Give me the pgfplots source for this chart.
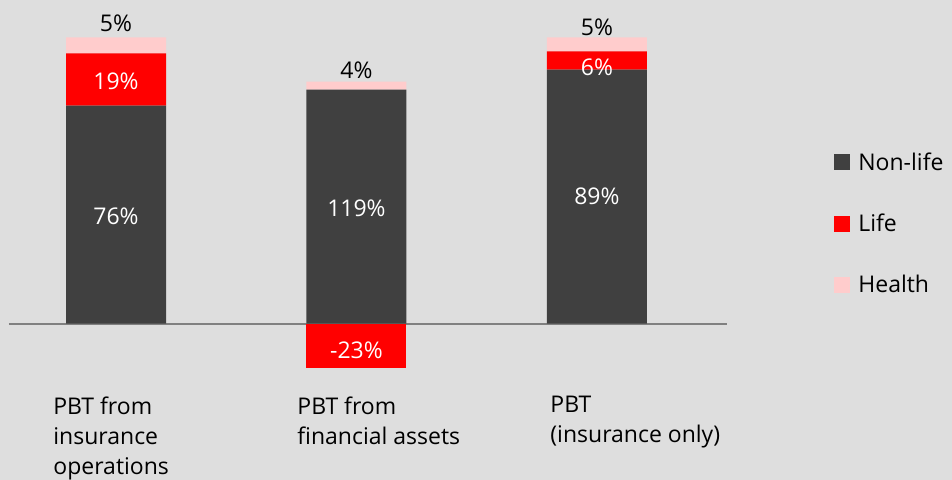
\documentclass[border=0pt]{standalone}
\usepackage{pgfplots}
\usepackage{pgfplotstable}
\pgfplotsset{compat=1.18}
\usepackage{fontspec}
\setmainfont{Open Sans}
\definecolor{bg}{HTML}{DEDEDE}
\definecolor{nonlife}{HTML}{404040}
\definecolor{life}{HTML}{FF0000}
\definecolor{health}{HTML}{FFCCCC}
\definecolor{baseln}{HTML}{808080}
\pgfplotstableread{
x nl lpos health lneg
0 76.2 18.2 5.6 0
1 81.8 0 2.8 -15.4
2 88.8 6.3 4.9 0
}\datatable
\begin{document}
\begin{tikzpicture}[font=\fontsize{11.5}{15}\selectfont]
\fill[bg] (0pt,0pt) rectangle (476pt,240pt);
\begin{axis}[
  at={(4.5pt,0pt)}, anchor=south west,
  scale only axis, width=359pt, height=240pt,
  ybar stacked, bar width=50pt,
  xmin=-0.445, xmax=2.541, ymin=-54.7, ymax=113.1,
  axis line style={draw=none},
  xtick=\empty, ytick=\empty,
  extra y ticks={0}, extra y tick labels={},
  extra y tick style={grid=major, major grid style={baseln, line width=1pt}, major tick length=0pt},
  clip=false,
  legend image code/.code={\fill[#1] (0pt,0pt) rectangle (8pt,8pt);},
  legend style={at={(rel axis cs:1.149,0.533)}, anchor=west, draw=none, fill=none,
    inner sep=0pt, row sep=20.3pt, column sep=4pt, nodes={inner sep=0pt},
    cells={anchor=base west}},
]
\addplot[fill=life, draw=none, forget plot] table[x=x,y=lneg]{\datatable};
\addplot[fill=nonlife, draw=none] table[x=x,y=nl]{\datatable};
\addlegendentry{Non-life}
\addplot[fill=life, draw=none] table[x=x,y=lpos]{\datatable};
\addlegendentry{Life}
\addplot[fill=health, draw=none] table[x=x,y=health]{\datatable};
\addlegendentry{Health}
\coordinate (a1) at (axis cs:0,37.6);
\coordinate (a2) at (axis cs:0,84.8);
\coordinate (a3) at (axis cs:0,105.1);
\coordinate (b1) at (axis cs:1,40.4);
\coordinate (b2) at (axis cs:1,88.6);
\coordinate (b3) at (axis cs:1,-9.3);
\coordinate (c1) at (axis cs:2,44.6);
\coordinate (c2) at (axis cs:2,89.7);
\coordinate (c3) at (axis cs:2,103.7);
\coordinate (t1) at (axis cs:-0.262,-25.35);
\coordinate (t2) at (axis cs:0.753,-25.35);
\coordinate (t3) at (axis cs:1.805,-25.35);
\end{axis}
\node[white] at (a1) {76\%};
\node[white] at (a2) {19\%};
\node[black] at (a3) {5\%};
\node[white] at (b1) {119\%};
\node[black] at (b2) {4\%};
\node[white] at (b3) {-23\%};
\node[white] at (c1) {89\%};
\node[white] at (c2) {6\%};
\node[black] at (c3) {5\%};
\node[anchor=north west, align=left, inner sep=0pt] at (t1) {PBT from\\insurance\\operations};
\node[anchor=north west, align=left, inner sep=0pt] at (t2) {PBT from\\financial assets};
\node[anchor=north west, align=left, inner sep=0pt] at (t3) {PBT\\(insurance only)};
\pgfresetboundingbox
\path (0pt,0pt) rectangle (476pt,240pt);
\end{tikzpicture}
\end{document}
